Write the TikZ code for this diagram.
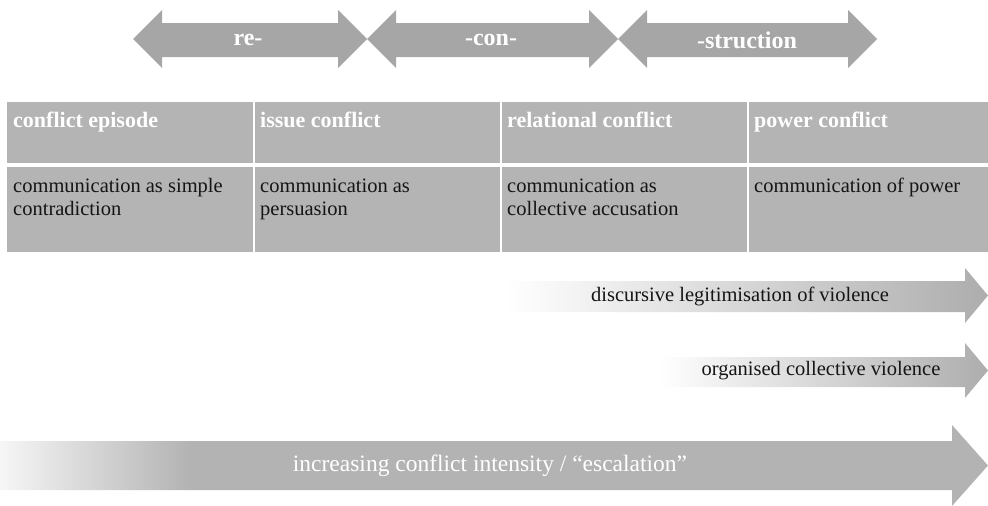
\documentclass[tikz,border=0pt]{standalone}
\usepackage{fontspec}
\setmainfont{Liberation Serif}
\definecolor{arrowgray}{HTML}{A6A6A6}
\definecolor{cellgray}{HTML}{B4B4B4}
\definecolor{bargray}{HTML}{B3B3B3}
\definecolor{barstart}{HTML}{F6F6F6}
\definecolor{fadegray}{HTML}{ADADAD}
\definecolor{inkblack}{HTML}{151515}
\pgfdeclarehorizontalshading{barfade}{100bp}{color(0bp)=(barstart); color(25bp)=(barstart); color(34.6bp)=(bargray); color(100bp)=(bargray)}
\begin{document}
\begin{tikzpicture}[x=1pt,y=-1pt,
  toparrow/.style={fill=arrowgray, draw=none},
  cell/.style={fill=cellgray, draw=none},
  toplabel/.style={anchor=center, inner sep=0, text=white, font=\fontsize{24}{28}\selectfont\bfseries},
  headtext/.style={anchor=base west, inner sep=0, text=white, font=\fontsize{22}{25}\selectfont\bfseries},
  bodytext/.style={anchor=base west, inner sep=0, text=inkblack, align=left, font=\fontsize{20.5}{23}\selectfont},
  barlabel/.style={anchor=center, inner sep=0, text=inkblack, font=\fontsize{20.5}{23}\selectfont},
  bottomlabel/.style={anchor=center, inner sep=0, text=white, font=\fontsize{23.5}{27}\selectfont}]
\useasboundingbox (0,0) rectangle (988,506);

% top double arrows
\path[toparrow] (133,39) -- (162,10) -- (162,23) -- (338,23) -- (338,10) -- (367,39)
  -- (338,68) -- (338,57) -- (162,57) -- (162,68) -- cycle;
\path[toparrow] (367,39) -- (396,10) -- (396,23) -- (589,23) -- (589,10) -- (618,39)
  -- (589,68) -- (589,57) -- (396,57) -- (396,68) -- cycle;
\path[toparrow] (618,39) -- (647,10) -- (647,23) -- (848,23) -- (848,10) -- (877,39)
  -- (848,68) -- (848,57) -- (647,57) -- (647,68) -- cycle;
\node[toplabel] (re) at (248,40) {re-};
\node[toplabel] (con) at (491,40) {-con-};
\node[toplabel] (struction) at (747,40) {-struction};

% table
\path[cell] (7,102) rectangle (253,163);
\path[cell] (255,102) rectangle (500,163);
\path[cell] (502,102) rectangle (747,163);
\path[cell] (749,102) rectangle (988,163);
\path[cell] (7,167) rectangle (253,252);
\path[cell] (255,167) rectangle (500,252);
\path[cell] (502,167) rectangle (747,252);
\path[cell] (749,167) rectangle (988,252);

\node[headtext] (h1) at (13,127) {conflict episode};
\node[headtext] (h2) at (260,127) {issue conflict};
\node[headtext] (h3) at (507,127) {relational conflict};
\node[headtext] (h4) at (754,127) {power conflict};

% multi-line nodes: base anchor is the baseline of the last line
\node[bodytext] (b1) at (13,215) {communication as simple\\contradiction};
\node[bodytext] (b2) at (260,215) {communication as\\persuasion};
\node[bodytext] (b3) at (507,215) {communication as\\collective accusation};
\node[bodytext] (b4) at (754,192) {communication of power};

% gradient arrows
\shade[left color=white, right color=fadegray] (505,281) -- (965,281) -- (965,268) -- (988,295.5)
  -- (965,323) -- (965,312) -- (505,312) -- cycle;
\shade[left color=white, right color=fadegray] (660,357) -- (965,357) -- (965,343) -- (988,370.5)
  -- (965,398) -- (965,387) -- (660,387) -- cycle;
\node[barlabel] (legit) at (740,296) {discursive legitimisation of violence};
\node[barlabel] (organised) at (821,371) {organised collective violence};

% bottom arrow
\shade[shading=barfade] (0,441) -- (952,441) -- (952,425) -- (988,465.5) -- (952,506)
  -- (952,490) -- (0,490) -- cycle;
\node[bottomlabel] (escalation) at (490,466) {increasing conflict intensity / “escalation”};
\end{tikzpicture}
\end{document}
